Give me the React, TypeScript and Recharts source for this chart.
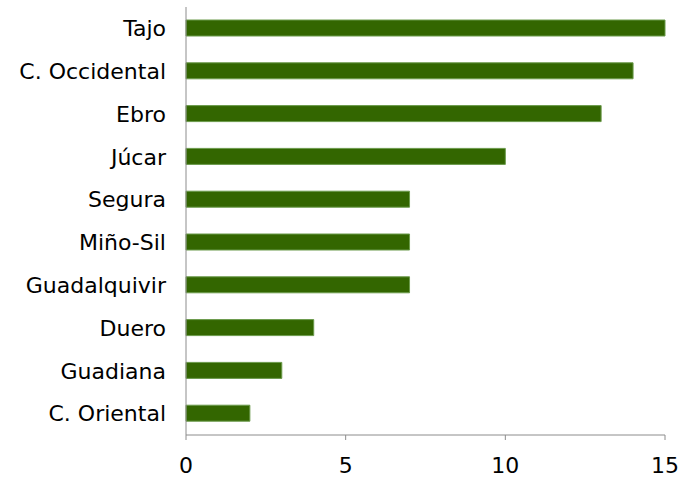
import { BarChart, Bar, XAxis, YAxis } from "recharts";

const BASINS = [
  "Tajo",
  "C. Occidental",
  "Ebro",
  "Júcar",
  "Segura",
  "Miño-Sil",
  "Guadalquivir",
  "Duero",
  "Guadiana",
  "C. Oriental",
];

const COUNTS = [15, 14, 13, 10, 7, 7, 7, 4, 3, 2];

const X_TICKS = [0, 5, 10, 15];

const data = BASINS.map((name, i) => ({ name, value: COUNTS[i] }));

const FONT = { fill: "#000", fontSize: 22, fontFamily: "DejaVu Sans, Verdana, sans-serif" };

export default function App() {
  return (
    <div style={{ position: "absolute", left: 0, top: 0, background: "#fff" }}>
      <BarChart
        width={684}
        height={479}
        data={data}
        layout="vertical"
        margin={{ top: 7, right: 19, bottom: 0, left: 0 }}
      >
        <XAxis
          type="number"
          domain={[0, 15]}
          ticks={X_TICKS}
          height={44}
          stroke="#8c8c8c"
          tickSize={5}
          tickMargin={17}
          tick={FONT}
          interval={0}
        />
        <YAxis
          type="category"
          dataKey="name"
          width={186}
          stroke="#8c8c8c"
          tickLine={false}
          tickSize={0}
          tickMargin={20}
          tick={FONT}
          interval={0}
        />
        <Bar
          dataKey="value"
          fill="#336600"
          stroke="#6b9a4b"
          strokeWidth={1}
          barSize={16}
          isAnimationActive={false}
        />
      </BarChart>
    </div>
  );
}
